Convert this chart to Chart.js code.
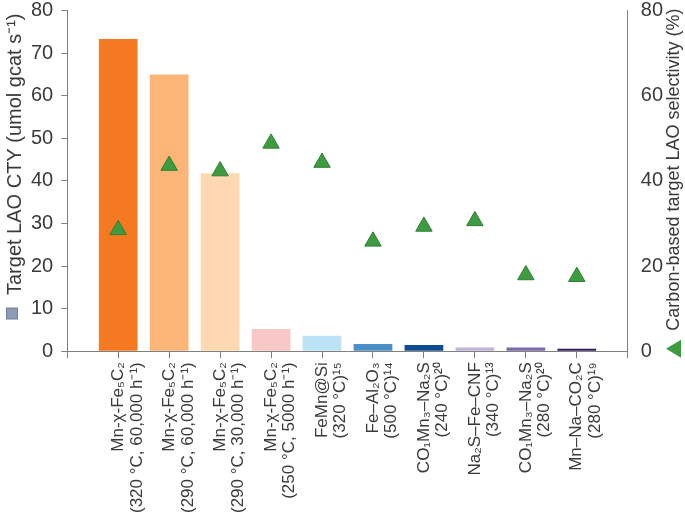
<!DOCTYPE html>
<html>
<head>
<meta charset="utf-8">
<script src="https://cdn.jsdelivr.net/npm/chart.js@4.4.1/dist/chart.umd.min.js"></script>
<style>
  html, body { margin: 0; padding: 0; background: #fff; }
  #wrap { width: 685px; height: 521px; }
</style>
</head>
<body>
<div id="wrap"><canvas id="lao-chart" width="685" height="521"></canvas></div>
<script>
// catalysts (two-line labels)
var catalysts = [
  ['Mn-\u03c7-Fe\u2085C\u2082', '(320 \u00b0C, 60,000 h\u207b\u00b9)'],
  ['Mn-\u03c7-Fe\u2085C\u2082', '(290 \u00b0C, 60,000 h\u207b\u00b9)'],
  ['Mn-\u03c7-Fe\u2085C\u2082', '(290 \u00b0C, 30,000 h\u207b\u00b9)'],
  ['Mn-\u03c7-Fe\u2085C\u2082', '(250 \u00b0C, 5000 h\u207b\u00b9)'],
  ['FeMn@Si', '(320 \u00b0C)\u00b9\u2075'],
  ['Fe\u2013Al\u2082O\u2083', '(500 \u00b0C)\u00b9\u2074'],
  ['CO\u2081Mn\u2083\u2013Na\u2082S', '(240 \u00b0C)\u00b2\u2070'],
  ['Na\u2082S\u2013Fe\u2013CNF', '(340 \u00b0C)\u00b9\u00b3'],
  ['CO\u2081Mn\u2083\u2013Na\u2082S', '(280 \u00b0C)\u00b2\u2070'],
  ['Mn\u2013Na\u2013CO\u2082C', '(280 \u00b0C)\u00b9\u2079']
];

// target LAO CTY (umol gcat s-1)
var ctyValues = [73.3, 65.0, 41.8, 5.2, 3.65, 1.7, 1.45, 0.9, 0.85, 0.6];

// carbon-based target LAO selectivity (%)
var selectivity = [28.5, 43.6, 42.3, 48.8, 44.3, 25.8, 29.3, 30.6, 17.9, 17.5];

var barColors = ['#f47920', '#fbb576', '#fdd8b0', '#f8c8c6', '#bce2f6',
                 '#4b8fc8', '#0d4c8e', '#bfb3d7', '#7b68a8', '#2b1b5e'];

var leftTicks = [0, 10, 20, 30, 40, 50, 60, 70, 80];
var rightTicks = [0, 20, 40, 60, 80];

var leftTitle = 'Target LAO CTY (umol gcat s\u207b\u00b9)';
var rightTitle = 'Carbon-based target LAO selectivity (%)';

var FONT = '"Liberation Sans", Arial, sans-serif';
var TEXT = '#3a3a3a';
var AXIS = '#808080';

// empty slot on each side gives the wide margin next to the axes
var labels = [''].concat(catalysts, ['']);
var barData = [null].concat(ctyValues, [null]);
var pointData = [null].concat(selectivity, [null]);
var bgColors = ['#fff'].concat(barColors, ['#fff']);

// top label sits right at the edge, like the figure
function tightTop(axis) {
  axis.paddingTop = 7;
}

// rotated axis titles with their little legend markers
var axisTitles = {
  id: 'axisTitles',
  afterDraw: function(chart) {
    var ctx = chart.ctx, area = chart.chartArea;
    ctx.save();
    ctx.fillStyle = TEXT;
    ctx.textAlign = 'right';
    ctx.textBaseline = 'middle';

    ctx.font = '20px ' + FONT;
    var lw = ctx.measureText(leftTitle).width;
    ctx.save();
    ctx.translate(15, area.top + 3);
    ctx.rotate(-Math.PI / 2);
    ctx.fillText(leftTitle, 0, 0);
    ctx.restore();
    var sy = area.top + 3 + lw + 13;
    ctx.fillStyle = '#8c9bb6';
    ctx.strokeStyle = '#6f7f9c';
    ctx.lineWidth = 1;
    ctx.fillRect(6.5, sy, 11, 11);
    ctx.strokeRect(6.5, sy, 11, 11);

    ctx.font = '18px ' + FONT;
    var rw = ctx.measureText(rightTitle).width;
    var rx = chart.width - 11;
    ctx.fillStyle = TEXT;
    ctx.save();
    ctx.translate(rx, area.top - 2);
    ctx.rotate(-Math.PI / 2);
    ctx.fillText(rightTitle, 0, 0);
    ctx.restore();
    var ty = area.top - 2 + rw + 18;
    ctx.beginPath();
    ctx.moveTo(rx - 8, ty);
    ctx.lineTo(rx + 7, ty - 9);
    ctx.lineTo(rx + 7, ty + 9);
    ctx.closePath();
    ctx.fillStyle = '#3d9b40';
    ctx.fill();
    ctx.restore();
  }
};

var chart = new Chart(document.getElementById('lao-chart'), {
  type: 'bar',
  data: {
    labels: labels,
    datasets: [
      {
        type: 'line',
        label: 'Selectivity',
        data: pointData,
        yAxisID: 'yR',
        showLine: false,
        pointStyle: 'triangle',
        pointRadius: 9.5,
        pointBackgroundColor: '#3d9b40',
        pointBorderColor: '#2f7f33',
        pointBorderWidth: 1,
        order: 0
      },
      {
        label: 'CTY',
        data: barData,
        yAxisID: 'y',
        backgroundColor: bgColors,
        borderWidth: 0,
        categoryPercentage: 0.76,
        barPercentage: 1,
        order: 1
      }
    ]
  },
  options: {
    responsive: false,
    animation: false,
    layout: { padding: { left: 23, right: 9, top: 0, bottom: 4 } },
    plugins: {
      legend: { display: false },
      tooltip: { enabled: false }
    },
    scales: {
      x: {
        offset: false,
        grid: { offset: false, drawOnChartArea: false, tickLength: 7, color: AXIS },
        border: { color: AXIS },
        ticks: {
          autoSkip: false,
          minRotation: 90,
          maxRotation: 90,
          padding: 4,
          color: TEXT,
          font: { family: FONT, size: 17, lineHeight: 1.1 }
        }
      },
      y: {
        position: 'left',
        min: 0,
        max: 80,
        afterBuildTicks: function(axis) {
          axis.ticks = leftTicks.map(function(v) { return { value: v }; });
        },
        afterFit: tightTop,
        grid: { drawOnChartArea: false, tickLength: 6, color: AXIS },
        border: { color: AXIS },
        ticks: {
          padding: 8,
          color: TEXT,
          font: { family: FONT, size: 20 }
        }
      },
      yR: {
        position: 'right',
        min: 0,
        max: 80,
        afterBuildTicks: function(axis) {
          axis.ticks = rightTicks.map(function(v) { return { value: v }; });
        },
        afterFit: tightTop,
        grid: { display: false, drawTicks: false },
        border: { display: true, color: AXIS },
        ticks: {
          padding: 13,
          color: TEXT,
          font: { family: FONT, size: 20 }
        }
      }
    }
  },
  plugins: [axisTitles]
});
</script>
</body>
</html>
